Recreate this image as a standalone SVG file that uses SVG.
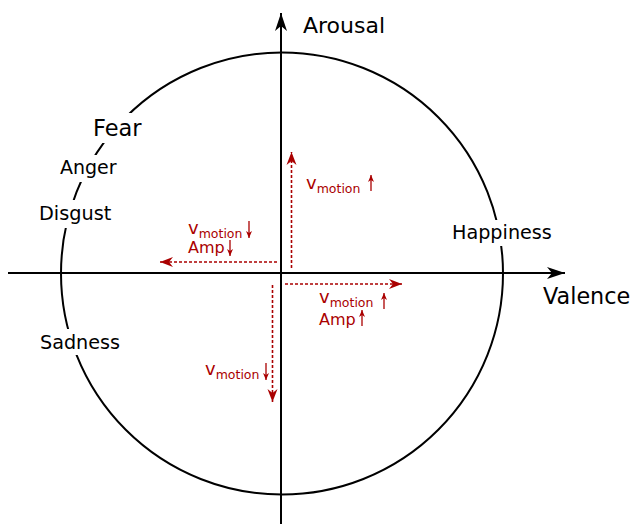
<svg xmlns="http://www.w3.org/2000/svg" width="632" height="524" viewBox="0 0 632 524">
<style>
.lbl{font-family:"DejaVu Sans","Liberation Sans",sans-serif;fill:#000}
.red{font-family:"DejaVu Sans","Liberation Sans",sans-serif;fill:#aa0000}
.dash{stroke:#aa0000;stroke-width:1.6;stroke-dasharray:3,2;fill:none}
.small{stroke:#aa0000;stroke-width:1.3;fill:none}
.axis{stroke:#000;stroke-width:2;fill:none}
.bg{fill:#fff}
</style>
<defs>
<marker id="ah" markerUnits="userSpaceOnUse" orient="auto" refX="0" refY="0" markerWidth="20" markerHeight="14" viewBox="-20 -7 20 14" overflow="visible">
<path d="M0,0 L-18,-6 L-13,0 L-18,6 Z" fill="#000"/>
</marker>
<marker id="rh" markerUnits="userSpaceOnUse" orient="auto" refX="0" refY="0" markerWidth="16" markerHeight="12" viewBox="-16 -6 16 12" overflow="visible">
<path d="M0,0 L-13,-5 L-9,0 L-13,5 Z" fill="#aa0000"/>
</marker>
<marker id="sh" markerUnits="userSpaceOnUse" orient="auto" refX="0" refY="0" markerWidth="8" markerHeight="8" viewBox="-8 -4 8 8" overflow="visible">
<path d="M0,0 L-7,-3 L-5,0 L-7,3 Z" fill="#aa0000"/>
</marker>
</defs>

<circle id="circle" cx="282" cy="273.5" r="221" fill="none" stroke="#000" stroke-width="2"/>

<g id="connectors">
<line class="axis" x1="8" y1="273" x2="565" y2="273" marker-end="url(#ah)"/>
<line class="axis" x1="281" y1="524" x2="281" y2="13" marker-end="url(#ah)"/>
<line class="dash" x1="291.5" y1="268" x2="291.5" y2="152" marker-end="url(#rh)"/>
<line class="dash" x1="277" y1="262" x2="160" y2="262" marker-end="url(#rh)"/>
<line class="dash" x1="285" y1="284" x2="402" y2="284" marker-end="url(#rh)"/>
<line class="dash" x1="272.5" y1="285" x2="272.5" y2="402" marker-end="url(#rh)"/>
</g>

<g id="fear"><rect class="bg" x="88" y="113" width="60" height="30"/><text class="lbl" x="93" y="136" font-size="22.5">Fear</text></g>
<g id="anger"><rect class="bg" x="56" y="155" width="64" height="27"/><text class="lbl" x="60" y="174" font-size="19">Anger</text></g>
<g id="disgust"><rect class="bg" x="36" y="200" width="79" height="28"/><text class="lbl" x="39" y="220" font-size="19.3">Disgust</text></g>
<g id="happiness"><rect class="bg" x="448" y="220" width="107" height="26"/><text class="lbl" x="452" y="239" font-size="19.2">Happiness</text></g>
<g id="sadness"><rect class="bg" x="36" y="329" width="88" height="26"/><text class="lbl" x="40" y="349" font-size="19.2">Sadness</text></g>
<g id="arousal"><text class="lbl" x="303" y="33" font-size="22">Arousal</text></g>
<g id="valence"><text class="lbl" x="543" y="304" font-size="22.3">Valence</text></g>

<g id="up-label">
<text class="red" x="306" y="189" font-size="18">v<tspan font-size="12.5" dy="3.5">motion</tspan></text>
<line class="small" x1="371" y1="191" x2="371" y2="175" marker-end="url(#sh)"/>
</g>
<g id="left-label">
<text class="red" x="188" y="234" font-size="18">v<tspan font-size="12.5" dy="3.5">motion</tspan></text>
<line class="small" x1="249" y1="221" x2="249" y2="238" marker-end="url(#sh)"/>
<text class="red" x="188" y="253" font-size="16">Amp</text>
<line class="small" x1="230" y1="240" x2="230" y2="256" marker-end="url(#sh)"/>
</g>
<g id="right-label">
<text class="red" x="319" y="303" font-size="18">v<tspan font-size="12.5" dy="3.5">motion</tspan></text>
<line class="small" x1="384" y1="309" x2="384" y2="293" marker-end="url(#sh)"/>
<text class="red" x="319" y="325" font-size="16">Amp</text>
<line class="small" x1="362" y1="326" x2="362" y2="310" marker-end="url(#sh)"/>
</g>
<g id="down-label">
<text class="red" x="205" y="375" font-size="18">v<tspan font-size="12.5" dy="3.5">motion</tspan></text>
<line class="small" x1="266" y1="363" x2="266" y2="380" marker-end="url(#sh)"/>
</g>
</svg>
